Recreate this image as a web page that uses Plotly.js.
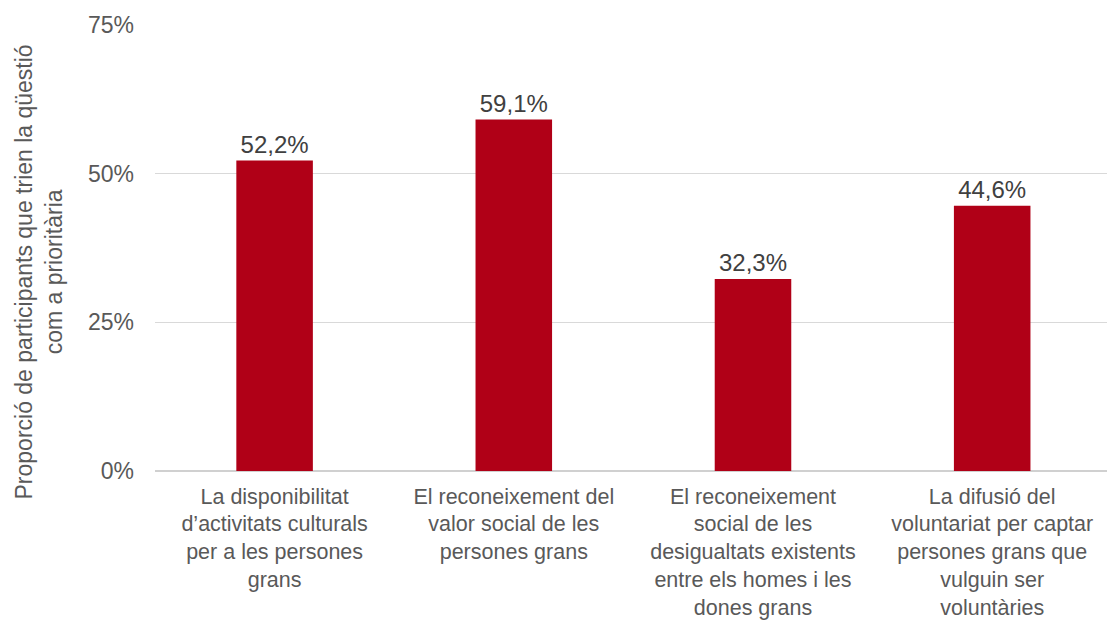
<!DOCTYPE html>
<html>
<head>
<meta charset="utf-8">
<script src="https://cdn.plot.ly/plotly-3.0.1.min.js"></script>
<style>html,body{margin:0;padding:0;overflow:hidden;background:#fff}</style>
</head>
<body>
<div id="chart" style="width:1107px;height:621px"></div>
<script>
const categories = [
  "La disponibilitat<br>d’activitats culturals<br>per a les persones<br>grans",
  "El reconeixement del<br>valor social de les<br>persones grans",
  "El reconeixement<br>social de les<br>desigualtats existents<br>entre els homes i les<br>dones grans",
  "La difusió del<br>voluntariat per captar<br>persones grans que<br>vulguin ser<br>voluntàries"
];
const values = [52.2, 59.1, 32.3, 44.6];
const yTickVals = [0, 25, 50, 75];
const yTickText = ["0%", "25%", "50%", "75%"];
const yTitle = "Proporció de participants que trien la qüestió<br>com a prioritària";

const labels = values.map(v => v.toFixed(1).replace('.', ',') + '%');
const font = "Liberation Sans, Arial, sans-serif";

Plotly.newPlot('chart', [{
  type: 'bar',
  x: categories,
  y: values,
  text: labels,
  textposition: 'outside',
  cliponaxis: false,
  textfont: {family: font, size: 24, color: '#404040'},
  marker: {color: '#b00017'},
  hoverinfo: 'none'
}], {
  width: 1107, height: 621,
  margin: {l: 155, r: 0, t: 25, b: 150},
  paper_bgcolor: '#fff', plot_bgcolor: '#fff',
  bargap: 0.68,
  showlegend: false,
  font: {family: font, color: '#595959'},
  xaxis: {
    range: [-0.5, 3.48],
    tickfont: {family: font, size: 21.5, color: '#595959'},
    ticks: '', showgrid: false, zeroline: false, showline: false,
    tickangle: 0, automargin: false, ticklabelstandoff: 10
  },
  yaxis: {
    range: [0, 75],
    tickvals: yTickVals, ticktext: yTickText,
    tickfont: {family: font, size: 23, color: '#595959'},
    showgrid: true, gridcolor: '#d9d9d9', gridwidth: 1,
    zeroline: true, zerolinecolor: '#d0d0d0', zerolinewidth: 1.5,
    ticks: '', ticklabelstandoff: 20, automargin: false
  },
  annotations: [{
    text: yTitle, showarrow: false, textangle: -90,
    xref: 'paper', yref: 'paper', x: -0.122, y: 0.447,
    xanchor: 'center', yanchor: 'middle',
    font: {family: font, size: 23, color: '#595959'}
  }]
}, {staticPlot: true});
</script>
</body>
</html>
